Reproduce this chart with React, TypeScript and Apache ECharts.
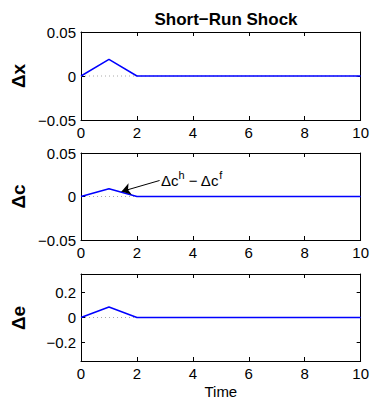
import React, { useEffect, useRef } from "react";
import * as echarts from "echarts";

const TIME = [0, 1, 2, 3, 4, 5, 6, 7, 8, 9, 10];
const DX = [0, 0.019, 0, 0, 0, 0, 0, 0, 0, 0, 0];
const DC = [0, 0.009, 0, 0, 0, 0, 0, 0, 0, 0, 0];
const DE = [0, 0.085, 0, 0, 0, 0, 0, 0, 0, 0, 0];
const Y_TICKS_SMALL = [-0.05, 0, 0.05];
const Y_TICKS_E = [-0.2, 0, 0.2];
const Y_NAMES = ["Δx", "Δc", "Δe"];
const TITLE = "Short−Run Shock";
const X_NAME = "Time";

const FONT = "Liberation Sans, Arial, Helvetica, sans-serif";

const fmt = (v: number) => {
  if (Math.abs(v) < 1e-9) return "0";
  const s = String(Math.round(Math.abs(v) * 1000) / 1000);
  return (v < 0 ? "−" : "") + s;
};

export default function App() {
  const ref = useRef<HTMLDivElement>(null);
  useEffect(() => {
    document.body.style.margin = "0";
    const chart = echarts.init(ref.current!, null, { renderer: "svg" });
    const grids = [
      { left: 81, right: 10, top: 32, height: 88 },
      { left: 81, right: 10, top: 153, height: 87 },
      { left: 81, right: 10, top: 274, height: 88 },
    ];
    const ranges = [
      { min: -0.05, max: 0.05, ticks: Y_TICKS_SMALL },
      { min: -0.05, max: 0.05, ticks: Y_TICKS_SMALL },
      { min: -0.35, max: 0.35, ticks: Y_TICKS_E },
    ];
    const datas = [DX, DC, DE];
    const xAxis: any[] = [];
    const yAxis: any[] = [];
    const series: any[] = [];
    const axisLine = { show: true, onZero: false, lineStyle: { color: "#000", width: 1 } };
    const tick = { show: true, inside: true, length: 4, lineStyle: { color: "#000" } };
    grids.forEach((g, i) => {
      xAxis.push({
        type: "value",
        gridIndex: i,
        min: 0,
        max: 10,
        interval: 2,
        position: "bottom",
        axisLine,
        axisTick: tick,
        axisLabel: { color: "#000", fontSize: 15, fontFamily: FONT, margin: 5, formatter: fmt },
        splitLine: { show: false },
        name: i === 2 ? X_NAME : "",
        nameLocation: "middle",
        nameGap: 23,
        nameTextStyle: { color: "#000", fontSize: 15, fontFamily: FONT },
      });
      xAxis.push({
        type: "value",
        gridIndex: i,
        min: 0,
        max: 10,
        interval: 2,
        position: "top",
        axisLine,
        axisTick: tick,
        axisLabel: { show: false },
        splitLine: { show: false },
      });
      const r = ranges[i];
      yAxis.push({
        type: "value",
        gridIndex: i,
        min: r.min,
        max: r.max,
        position: "left",
        axisLine,
        axisTick: { ...tick, customValues: r.ticks },
        axisLabel: { color: "#000", fontSize: 15, fontFamily: FONT, margin: 5, customValues: r.ticks, formatter: fmt },
        splitLine: { show: false },
      });
      yAxis.push({
        type: "value",
        gridIndex: i,
        min: r.min,
        max: r.max,
        position: "right",
        axisLine,
        axisTick: { ...tick, customValues: r.ticks },
        axisLabel: { show: false },
        splitLine: { show: false },
      });
      series.push({
        type: "line",
        xAxisIndex: i * 2,
        yAxisIndex: i * 2,
        data: TIME.map((t) => [t, 0]),
        showSymbol: false,
        silent: true,
        lineStyle: { color: "#aaa", width: 1, type: [1, 3] },
      });
      const s: any = {
        type: "line",
        xAxisIndex: i * 2,
        yAxisIndex: i * 2,
        data: TIME.map((t, k) => [t, datas[i][k]]),
        showSymbol: false,
        lineStyle: { color: "#0000ff", width: 1.5 },
      };
      if (i === 1) {
        s.markLine = {
          silent: true,
          symbol: ["none", "arrow"],
          symbolSize: 9,
          lineStyle: { color: "#000", width: 1, type: "solid" },
          label: { show: false },
          data: [[{ coord: [2.81, 0.0184] }, { coord: [1.45, 0.0057] }]],
        };
        s.markPoint = {
          silent: true,
          symbol: "circle",
          symbolSize: 0,
          data: [{ coord: [2.86, 0.0195] }],
          label: {
            show: true,
            position: "right",
            distance: 0,
            formatter: "{a|Δc}{s|h}{a| − Δc}{s|f}",
            rich: {
              a: { color: "#000", fontSize: 15, fontFamily: FONT, verticalAlign: "bottom", lineHeight: 17 },
              s: { color: "#000", fontSize: 11, fontFamily: FONT, verticalAlign: "bottom", lineHeight: 12, padding: [0, 0, 8, 0] },
            },
          },
        };
      }
      series.push(s);
    });
    const graphic: any[] = Y_NAMES.map((n, i) => ({
      type: "text",
      x: 18,
      y: grids[i].top + grids[i].height / 2,
      rotation: Math.PI / 2,
      style: {
        text: n,
        fill: "#000",
        font: `bold 19px ${FONT}`,
        textAlign: "center",
        textVerticalAlign: "middle",
      },
    }));
    chart.setOption({
      animation: false,
      backgroundColor: "#fff",
      title: {
        text: TITLE,
        left: 221,
        top: 6,
        textAlign: "center",
        textStyle: { color: "#000", fontSize: 17, fontWeight: "bold", fontFamily: FONT },
      },
      grid: grids,
      xAxis,
      yAxis,
      series,
      graphic,
    });
    return () => chart.dispose();
  }, []);
  return <div ref={ref} style={{ width: 372, height: 400 }} />;
}
